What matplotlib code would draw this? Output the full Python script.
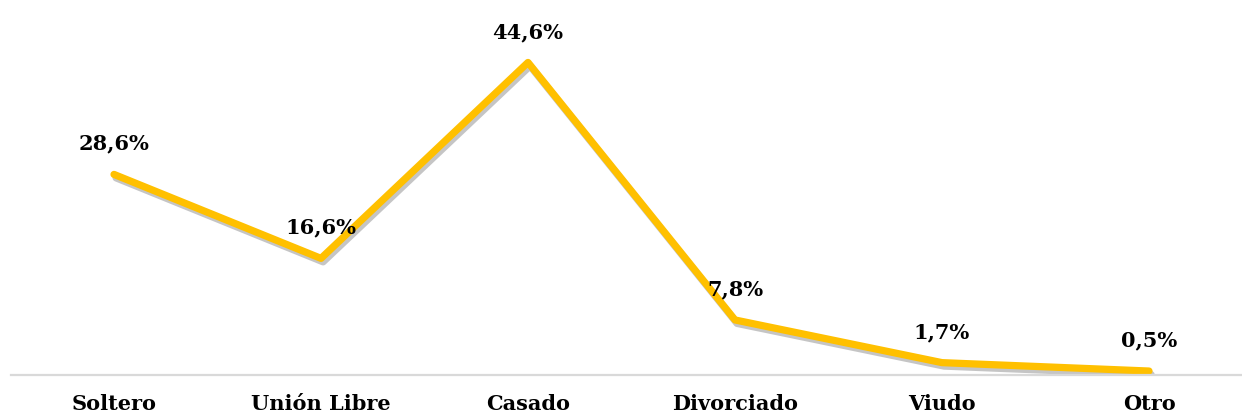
import matplotlib.pyplot as plt
import matplotlib.patheffects as pe

categories = ["Soltero", "Unión Libre", "Casado", "Divorciado", "Viudo", "Otro"]
values = [28.6, 16.6, 44.6, 7.8, 1.7, 0.5]
labels = ["28,6%", "16,6%", "44,6%", "7,8%", "1,7%", "0,5%"]

plt.rcParams['font.family'] = ['DejaVu Serif']

fig = plt.figure(figsize=(12.42, 4.18), dpi=100)
ax = fig.add_axes([10.5 / 1242, 0.104, 1.0, 0.837])

x = range(len(categories))
ax.plot(x, values, color='#FFC000', linewidth=5.2,
        solid_capstyle='round', solid_joinstyle='round',
        path_effects=[pe.SimpleLineShadow(offset=(1.5, -2.5), shadow_color='gray', alpha=0.45),
                      pe.Normal()])

for xi, v, lab in zip(x, values, labels):
    ax.annotate(lab, (xi, v), xytext=(0, 22), textcoords='offset points',
                ha='center', va='center', fontsize=15, fontweight='heavy')

ax.set_xlim(-0.5, 5.5)
ax.set_ylim(0, 50)
ax.set_xticks(list(x))
ax.set_xticklabels(categories, fontsize=15, fontweight='heavy')
ax.tick_params(axis='x', length=0, pad=14)
ax.set_yticks([])
for s in ['top', 'right', 'left']:
    ax.spines[s].set_visible(False)
ax.spines['bottom'].set_color('#D9D9D9')
ax.spines['bottom'].set_linewidth(1.6)

fig.savefig('out.png', dpi=100)
